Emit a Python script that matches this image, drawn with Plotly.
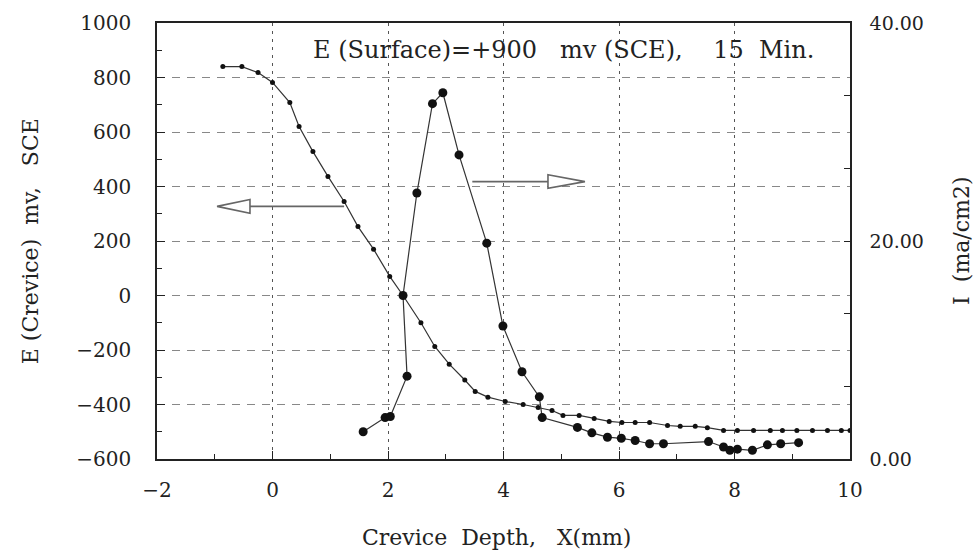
import plotly.graph_objects as go

# Crevice potential (left axis, mV SCE)
e_x = [-0.86, -0.53, -0.25, 0.0, 0.30, 0.46, 0.70, 0.96, 1.24, 1.48, 1.75, 2.03, 2.26,
       2.57, 2.81, 3.06, 3.33, 3.51, 3.73, 4.03, 4.34, 4.60, 4.84, 5.03, 5.31, 5.57,
       5.83, 6.05, 6.28, 6.53, 6.84, 7.06, 7.32, 7.53, 7.81, 8.05, 8.33, 8.62, 8.83,
       9.08, 9.35, 9.61, 9.85, 10.0]
e_val = [840, 840, 818, 782, 708, 620, 528, 437, 345, 253, 170, 70, 0,
         -100, -187, -252, -310, -352, -373, -389, -400, -411, -422, -440, -440, -451,
         -462, -466, -466, -466, -477, -480, -480, -485, -495, -495, -495, -495, -495,
         -495, -495, -495, -495, -495]

# Current density (right axis, mA/cm2)
i_x = [1.57, 1.95, 2.04, 2.33, 2.26, 2.50, 2.77, 2.95, 3.23, 3.71, 3.99, 4.32, 4.62,
       4.67, 5.28, 5.53, 5.80, 6.04, 6.28, 6.53, 6.77, 7.55, 7.81, 7.92, 8.05, 8.31,
       8.57, 8.80, 9.11]
i_val = [2.5, 3.8, 3.9, 7.6, 15.0, 24.4, 32.6, 33.6, 27.9, 19.8, 12.2, 8.0, 5.7,
         3.8, 2.9, 2.4, 2.0, 1.9, 1.7, 1.4, 1.4, 1.6, 1.1, 0.8, 0.9, 0.8,
         1.3, 1.4, 1.5]

x_ticks = [-2, 0, 2, 4, 6, 8, 10]
y_ticks = [-600, -400, -200, 0, 200, 400, 600, 800, 1000]
y2_ticks = [0, 20, 40]

FONT = "DejaVu Serif"
INK = "#222"

fig = go.Figure()
fig.add_trace(go.Scatter(x=e_x, y=e_val, mode="lines+markers",
                         line=dict(color="#333", width=1.2),
                         marker=dict(color="#111", size=5),
                         showlegend=False, yaxis="y"))
fig.add_trace(go.Scatter(x=i_x, y=i_val, mode="lines+markers",
                         line=dict(color="#333", width=1.2),
                         marker=dict(color="#111", size=9),
                         showlegend=False, yaxis="y2"))

# direction arrows (open triangle heads)
arrow_style = dict(color="#666", width=1.6)
# left arrow -> points to left axis
fig.add_shape(type="line", xref="x", yref="y", x0=-0.39, x1=1.24, y0=327, y1=327, line=arrow_style)
fig.add_shape(type="path", xref="x", yref="y",
              path="M -0.39,352 L -0.96,327 L -0.39,302 Z", line=arrow_style, fillcolor="white")
# right arrow -> points to right axis
fig.add_shape(type="line", xref="x", yref="y", x0=3.46, x1=4.77, y0=418, y1=418, line=arrow_style)
fig.add_shape(type="path", xref="x", yref="y",
              path="M 4.77,443 L 5.41,418 L 4.77,393 Z", line=arrow_style, fillcolor="white")

fig.update_layout(
    width=979, height=554,
    margin=dict(l=157, r=129, t=23, b=95),
    paper_bgcolor="white", plot_bgcolor="white",
    font=dict(family=FONT, size=20, color=INK),
    xaxis=dict(range=[-2, 10], tickvals=x_ticks, ticks="inside", ticklen=8, tickcolor=INK,
               minor=dict(dtick=1, tick0=0, ticks="inside", ticklen=5, tickcolor=INK,
                          showgrid=False),
               showline=True, linecolor=INK, linewidth=1.5, mirror=True,
               showgrid=True, gridcolor="#555", gridwidth=1, griddash="3px,5px",
               zeroline=False, ticklabelstandoff=12,
               tickfont=dict(family=FONT, size=20, color=INK)),
    yaxis=dict(range=[-600, 1000], tickvals=y_ticks, ticks="inside", ticklen=8, tickcolor=INK,
               minor=dict(dtick=100, tick0=0, ticks="inside", ticklen=5, tickcolor=INK,
                          showgrid=False),
               showline=True, linecolor=INK, linewidth=1.5, mirror=True,
               showgrid=True, gridcolor="#888", gridwidth=1, griddash="8px,7px",
               zeroline=False, ticklabelstandoff=20,
               tickfont=dict(family=FONT, size=20, color=INK)),
    yaxis2=dict(range=[0, 40], tickvals=y2_ticks, tickformat=".2f", overlaying="y", side="right",
                ticks="inside", ticklen=6, tickcolor=INK,
                minor=dict(dtick=20 / 3, tick0=0, ticks="inside", ticklen=6, tickcolor=INK,
                           showgrid=False),
                showline=True, linecolor=INK, linewidth=1.5,
                showgrid=False, zeroline=False, ticklabelstandoff=14,
                tickfont=dict(family=FONT, size=19, color=INK)),
    annotations=[
        dict(text="E (Surface)=+900   mv (SCE),    15  Min.", xref="paper", yref="paper",
             x=0.586, y=0.938, showarrow=False, font=dict(family=FONT, size=24, color=INK),
             xanchor="center", yanchor="middle"),
        dict(text="E (Crevice)  mv,   SCE", xref="paper", yref="paper", x=-0.183, y=0.5,
             textangle=-90, showarrow=False, xanchor="center", yanchor="middle",
             font=dict(family=FONT, size=22, color=INK)),
        dict(text="I  (ma/cm2)", xref="paper", yref="paper", x=1.16, y=0.5,
             textangle=-90, showarrow=False, xanchor="center", yanchor="middle",
             font=dict(family=FONT, size=22, color=INK)),
        dict(text="Crevice  Depth,   X(mm)", xref="paper", yref="paper", x=0.49, y=-0.18,
             showarrow=False, xanchor="center", yanchor="middle",
             font=dict(family=FONT, size=22, color=INK)),
    ],
)

fig.write_html("out.html")
